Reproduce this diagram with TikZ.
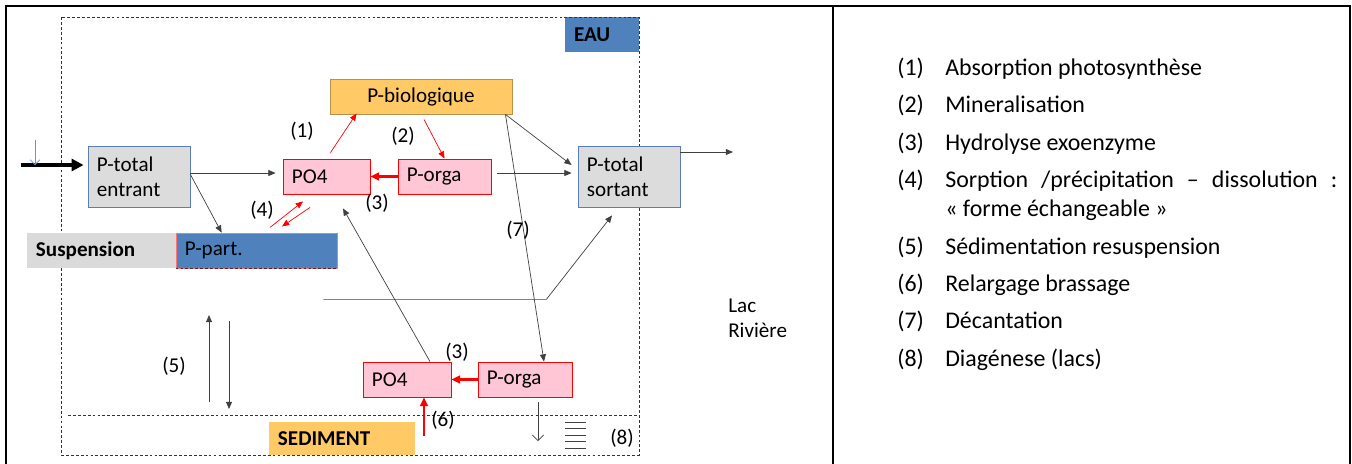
\documentclass[tikz,border=0pt]{standalone}
\usepackage{fontspec}
\setmainfont{Carlito}
\usetikzlibrary{arrows.meta,calc}
\definecolor{eaublue}{HTML}{4F81BD}
\definecolor{biogold}{HTML}{FFCA66}
\definecolor{bioedge}{HTML}{B8904A}
\definecolor{orgapink}{HTML}{FFC6D5}
\definecolor{totgrey}{HTML}{DCDCDC}
\definecolor{totedge}{HTML}{5B7DB1}
\definecolor{susgrey}{HTML}{DADADA}
\definecolor{flowgrey}{HTML}{404040}
\definecolor{rainblue}{HTML}{5B9BD5}
\newcommand{\diagfont}{\fontsize{15}{18}\selectfont}
\newcommand{\legfont}{\fontsize{17}{20}\selectfont}
\tikzset{
  totbox/.style={draw=totedge, fill=totgrey, line width=0.6pt, text width=2.1cm,
                 inner xsep=0.225cm, minimum height=1.525cm, align=left, font=\diagfont},
  pobox/.style={draw=red, fill=orgapink, line width=0.6pt, minimum height=0.875cm,
                inner xsep=0.225cm, align=left, font=\diagfont},
  biobox/.style={draw=bioedge, fill=biogold, line width=0.6pt, minimum height=0.875cm,
                 text width=4.1cm, inner xsep=0.225cm, align=center, font=\diagfont},
  layerbox/.style={minimum height=0.875cm, inner xsep=0.225cm, align=left,
                   font=\diagfont\bfseries},
  zone/.style={dash pattern=on 2pt off 1.5pt, line width=0.5pt, color=black!80},
  lbl/.style={font=\diagfont, inner sep=0pt},
  legtext/.style={font=\legfont, anchor=base west, inner sep=0pt},
  arr/.style={-{Triangle[length=1.8mm,width=1.5mm]}, line width=0.5pt, color=flowgrey},
  rarr/.style={-{Triangle[length=1.8mm,width=1.5mm]}, line width=0.5pt, color=red},
  rbold/.style={-{Triangle[length=2.2mm,width=2mm]}, line width=1.6pt, color=red}}
\begin{document}
\begin{tikzpicture}[x=0.025cm, y=-0.025cm]
  \useasboundingbox (0,0) rectangle (1352,463);
  % frame of the table
  \draw[line width=2pt] (6,480) -- (6,6) -- (1350,6) -- (1350,480);
  \draw[line width=2pt] (833,6) -- (833,480);
  % water and sediment
  \node[layerbox, fill=eaublue, text width=1.4cm] (eau) at (602,34.5) {EAU};
  \draw[zone] (61,17) rectangle (639,455);
  \draw[zone] (68,415) -- (639,415);
  \node[biobox] (bio) at (421,96.5) {P-biologique};
  \node[totbox] (entrant) at (139,176.5) {P-total\\entrant};
  \node[pobox, text width=1.725cm] (po4) at (326.5,176.5) {PO4};
  \node[pobox, text width=1.875cm] (orga) at (444.5,176.5) {P-orga};
  \node[totbox] (sortant) at (629,176.5) {P-total\\sortant};
  \node[layerbox, fill=susgrey, text width=3.275cm] (susp) at (101.5,250.5) {Suspension};
  \node[layerbox, fill=eaublue, draw=red!55, line width=0.5pt, font=\diagfont,
        text width=3.575cm] (part) at (256.5,250.5) {P-part.};
  \draw[zone] (part.south west) -- (part.south east);
  \node[pobox, text width=1.75cm] (po4s) at (407,379.5) {PO4};
  \node[pobox, text width=1.9cm] (orgas) at (525,379.5) {P-orga};
  \node[layerbox, fill=biogold, text width=3.2cm, minimum height=0.825cm]
    (sed) at (342,438.5) {SEDIMENT};
  % inflow
  \coordinate (in) at (21,165);
  \coordinate (rain) at (35,140);
  \draw[-{Triangle[length=3mm,width=3mm]}, line width=2.2pt, shorten >=0.1cm]
    (in) -- (in -| entrant.west);
  \draw[-{Straight Barb[length=1.2mm]}, line width=0.5pt, color=rainblue]
    (rain) -- (rain |- in);
  % water column
  \draw[arr] ($(entrant.east)+(0,-3.5)$) -- ($(po4.west)+(-7,-3.5)$);
  \draw[arr] ($(entrant.east)+(0,-2)$) -- ($(part.north west)+(46,0)$);
  \draw[rarr] ($(po4.north)+(4,-6)$) -- ($(bio.south west)+(27,-1)$);
  \draw[rarr] ($(bio.south)+(3,5)$) -- (orga.north);
  \draw[rbold] (orga.west) -- (po4.east);
  \draw[rarr] ($(po4.south)+(-56.5,33)$) -- ($(po4.south)+(-23.5,7)$);
  \draw[rarr] ($(po4.south)+(-16.5,13)$) -- ($(po4.south)+(-44.5,32)$);
  \draw[arr] ($(po4s.north)+(23,0)$) -- ($(po4.south)+(16.5,14)$);
  \draw[arr] ($(part.south east)+(-14,31)$) -- ++(223,0) -- ($(sortant.south)+(-17,8)$);
  \draw[arr] ($(bio.south east)+(-7,0)$) -- ($(sortant.west)+(-6,-11.5)$);
  \draw[arr] ($(bio.south east)+(-7,0)$) -- ($(orgas.north)+(19,0)$);
  \draw[arr] ($(orga.east)+(6,-3.5)$) -- ($(sortant.west)+(-6,-3.5)$);
  \coordinate (out) at (733,152);
  \draw[arr] (sortant.north east |- out) -- (out);
  % exchange with the sediment
  \coordinate (res0) at (209,402);
  \coordinate (res1) at (209,315);
  \coordinate (sed0) at (229,321);
  \coordinate (sed1) at (229,409);
  \draw[arr] (res0) -- (res1);
  \draw[arr] (sed0) -- (sed1);
  \draw[rbold] (orgas.west) -- (po4s.east);
  \coordinate (rel) at (424,436);
  \draw[rbold] (rel) -- (rel |- po4s.south);
  \coordinate (dia) at (538,441);
  \draw[-{Straight Barb[length=1.4mm]}, line width=0.5pt, color=flowgrey]
    ($(orgas.south)+(13,5)$) -- (dia);
  \foreach \y in {422,428.5,435,441.5,448}
    \draw[flowgrey, line width=0.6pt] (565,\y) -- (586,\y);
  % process numbers
  \node[lbl] (n1) at (302,131) {(1)};
  \node[lbl] (n2) at (403,136) {(2)};
  \node[lbl] (n3) at (377,203) {(3)};
  \node[lbl] (n4) at (262,210) {(4)};
  \node[lbl] (n7) at (518,230) {(7)};
  \node[lbl] (n5) at (174,366) {(5)};
  \node[lbl] (n3s) at (457,352) {(3)};
  \node[lbl] (n6) at (443,420) {(6)};
  \node[lbl] (n8) at (622,438) {(8)};
  \node[lbl, anchor=west, align=left] (lac) at (728,318) {Lac\\Rivière};
  % legend
  \foreach \y/\n/\txt in {75/1/Absorption photosynthèse, 112.5/2/Mineralisation,
      150/3/Hydrolyse exoenzyme, 254/5/Sédimentation resuspension,
      291/6/Relargage brassage, 328/7/Décantation, 366/8/Diagénese (lacs)} {
    \node[legtext] (num\n) at (897,\y) {(\n)};
    \node[legtext] (leg\n) at (945,\y) {\txt};
  }
  \node[legtext] (num4) at (897,187.5) {(4)};
  \node[legtext] (leg4) at (945,187.5)
    {\makebox[9.8cm][s]{Sorption /précipitation – dissolution :}};
  \node[legtext] (leg4b) at (945,216) {« forme échangeable »};
\end{tikzpicture}
\end{document}
